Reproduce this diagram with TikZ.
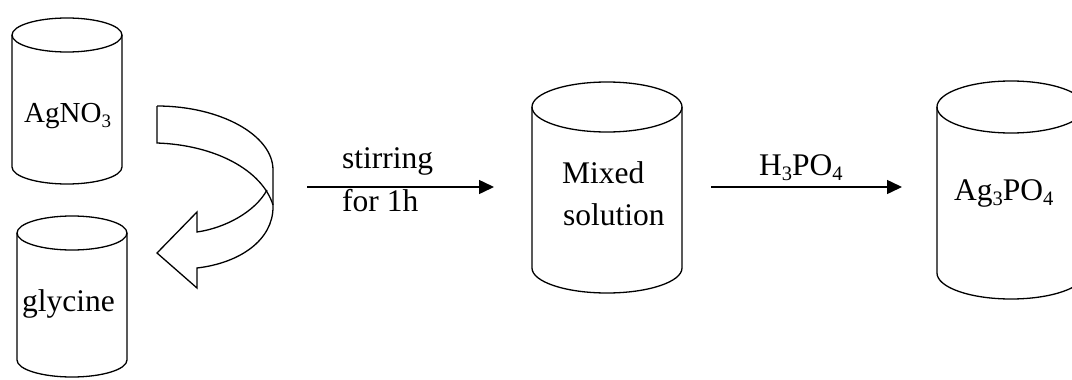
\documentclass[tikz,border=0pt]{standalone}
\usepackage{fontspec}
\setmainfont{Liberation Serif}
\usetikzlibrary{arrows.meta}
\newcommand{\chsub}[1]{\raisebox{-0.18em}{\fontsize{20.5}{20.5}\selectfont #1}}
\newcommand{\drawcyl}[5]{%
  \draw[cylline] (#1,#2) ellipse [x radius=#4, y radius=#5];
  \draw[cylline] ({#1-#4},#2) -- ({#1-#4},#3) arc[start angle=180,end angle=0,x radius=#4,y radius=#5] -- ({#1+#4},#2);
}
\begin{document}
\begin{tikzpicture}[x=1pt,y=-1pt,
  lbl/.style={font=\fontsize{31.5}{42}\selectfont, inner sep=0pt, anchor=base west, align=left},
  cylline/.style={line width=1.3pt},
  flow/.style={line width=1.5pt, -{Triangle[length=15pt,width=14pt]}},
  bendarrow/.style={line width=1.3pt, line join=miter}]
\useasboundingbox (0,0) rectangle (1072,380);
% cylinders
\drawcyl{67}{35}{167}{55}{17}
\drawcyl{72}{233}{360}{55}{17}
\drawcyl{607}{107}{268}{75}{25}
\drawcyl{1011}{107}{273}{74}{26}
% labels
\node[lbl, font=\fontsize{29}{40}\selectfont] (agno) at (24,122) {AgNO\raisebox{-0.18em}{\fontsize{19}{19}\selectfont 3}};
\node[lbl] (gly) at (22,311) {glycine};
\node[lbl] (mix) at (562,183) {Mixed};
\node[lbl] (sol) at (563,225) {solution};
\node[lbl] (agp) at (954,200) {Ag\chsub{3}PO\chsub{4}};
\node[lbl] (stir) at (342,168) {stirring};
\node[lbl] (for) at (342,211) {for 1h};
\node[lbl] (hpo) at (759,175) {H\chsub{3}PO\chsub{4}};
% arrows
\coordinate (a1s) at (307,187);
\coordinate (a1e) at (494,187);
\coordinate (a2s) at (711,187);
\coordinate (a2e) at (902,187);
\draw[flow] (a1s) -- (a1e);
\draw[flow] (a2s) -- (a2e);
% curved block arrow
\draw[bendarrow] (157,106) .. controls (220,106) and (273,135) .. (273,170) -- (273,207)
  .. controls (273,240) and (240,263) .. (197,268) -- (197,288) -- (157,253) -- (197,212) -- (197,232)
  .. controls (225,228) and (255,212) .. (267,190);
\draw[bendarrow] (157,106) -- (157,143) .. controls (215,145) and (262,170) .. (273,205);
\end{tikzpicture}
\end{document}
